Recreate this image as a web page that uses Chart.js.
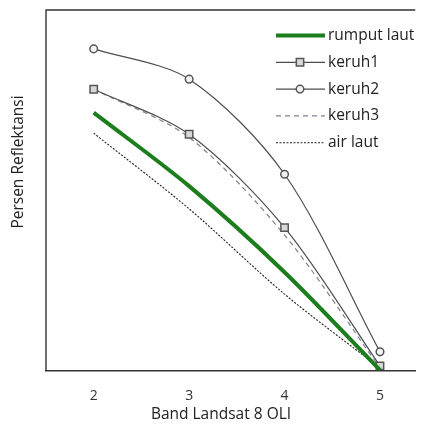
<!DOCTYPE html>
<html>
<head>
<meta charset="utf-8">
<script src="https://cdn.jsdelivr.net/npm/chart.js@4.4.1/dist/chart.umd.min.js"></script>
<style>
  html, body { margin: 0; padding: 0; background: #fff; overflow: hidden; }
  #wrap { position: relative; width: 422px; height: 431px; }
</style>
</head>
<body>
<div id="wrap"><canvas id="reflChart"></canvas></div>
<script>
    // band numbers (x) and reflectance values (percent of plot height)
    const bands = [2, 3, 4, 5];
    const rumputLaut = [71.5, 51.1, 27.2, 0.0];
    const keruh1 = [78.0, 65.5, 39.6, 1.2];
    const keruh2 = [89.2, 80.8, 54.4, 5.1];
    const keruh3 = [78.0, 64.6, 37.5, 0.6];
    const airLaut = [65.8, 44.8, 21.1, 0.6];
    const xTitle = 'Band Landsat 8 OLI';
    const yTitle = 'Persen Reflektansi';

    const FONT = '"Open Sans", "Liberation Sans", sans-serif';

    function pts(vals){
        return bands.map((b, i) => ({ x: b, y: vals[i] }));
    }

    // legend + frame + axis titles, drawn over the chart
    const decor = {
        id: 'decor',
        afterDraw(chart){
            const ctx = chart.ctx;
            const a = chart.chartArea;
            ctx.save();
            // frame: top and left (bottom comes from x axis border)
            ctx.strokeStyle = '#333';
            ctx.lineWidth = 1.4;
            ctx.setLineDash([]);
            ctx.beginPath();
            ctx.moveTo(a.left, a.bottom);
            ctx.lineTo(a.left, a.top);
            ctx.lineTo(a.right, a.top);
            ctx.stroke();

            // axis titles
            ctx.fillStyle = '#222';
            ctx.font = '15.5px ' + FONT;
            ctx.textAlign = 'center';
            ctx.textBaseline = 'middle';
            ctx.fillText(xTitle, 221, 415);
            ctx.translate(19, 162);
            ctx.rotate(-Math.PI / 2);
            ctx.fillText(yTitle, 0, 0);
            ctx.restore();

            // legend
            ctx.save();
            chart.data.datasets.forEach((ds, i) => {
                const y = 35.5 + i * 26.8;
                ctx.strokeStyle = ds.borderColor;
                ctx.lineWidth = ds.borderWidth;
                ctx.setLineDash(ds.borderDash || []);
                ctx.beginPath();
                ctx.moveTo(276, y);
                ctx.lineTo(325, y);
                ctx.stroke();
                ctx.setLineDash([]);
                if (ds.pointRadius > 0) {
                    ctx.fillStyle = ds.pointBackgroundColor;
                    ctx.strokeStyle = ds.pointBorderColor;
                    ctx.lineWidth = ds.pointBorderWidth;
                    Chart.helpers.drawPoint(ctx, { pointStyle: ds.pointStyle, radius: ds.pointRadius, borderWidth: ds.pointBorderWidth }, 300, y);
                }
                ctx.fillStyle = '#222';
                ctx.font = '15.5px ' + FONT;
                ctx.textAlign = 'left';
                ctx.textBaseline = 'middle';
                ctx.fillText(ds.label, 328, y);
            });
            ctx.restore();
        }
    };

    const ctx = document.getElementById('reflChart').getContext('2d');
    new Chart(ctx, {
        type: 'line',
        data: {
            datasets: [{
                label: 'rumput laut',
                data: pts(rumputLaut),
                borderColor: '#1b7d1b',
                borderWidth: 4,
                pointRadius: 0,
                tension: 0.3
            }, {
                label: 'keruh1',
                data: pts(keruh1),
                borderColor: '#4d4d4d',
                borderWidth: 1.2,
                pointStyle: 'rect',
                pointRadius: 5.2,
                pointBackgroundColor: '#d8d8d8',
                pointBorderColor: '#555',
                pointBorderWidth: 1.5,
                tension: 0.3
            }, {
                label: 'keruh2',
                data: pts(keruh2),
                borderColor: '#4d4d4d',
                borderWidth: 1.2,
                pointStyle: 'circle',
                pointRadius: 3.8,
                pointBackgroundColor: '#f4f4f4',
                pointBorderColor: '#555',
                pointBorderWidth: 1.5,
                tension: 0.3
            }, {
                label: 'keruh3',
                data: pts(keruh3),
                borderColor: '#7c8292',
                borderWidth: 1.2,
                borderDash: [5, 4],
                pointRadius: 0,
                tension: 0.3
            }, {
                label: 'air laut',
                data: pts(airLaut),
                borderColor: '#222',
                borderWidth: 1.1,
                borderDash: [2, 1.5],
                pointRadius: 0,
                tension: 0.3
            }]
        },
        options: {
            responsive: true,
            maintainAspectRatio: false,
            animation: false,
            layout: { padding: { left: 46, top: 10, right: 0, bottom: 10 } },
            scales: {
                x: {
                    type: 'linear',
                    min: 1.5,
                    max: 5.37,
                    afterBuildTicks: (s) => { s.ticks = bands.map(v => ({ value: v })); },
                    grid: { display: false, drawTicks: false },
                    border: { display: true, color: '#333', width: 1.4 },
                    ticks: { color: '#333', font: { size: 14, family: FONT }, padding: 17 }
                },
                y: {
                    display: false,
                    min: 0,
                    max: 100
                }
            },
            plugins: {
                legend: { display: false },
                tooltip: { enabled: false }
            }
        },
        plugins: [decor]
    });
</script>
</body>
</html>
